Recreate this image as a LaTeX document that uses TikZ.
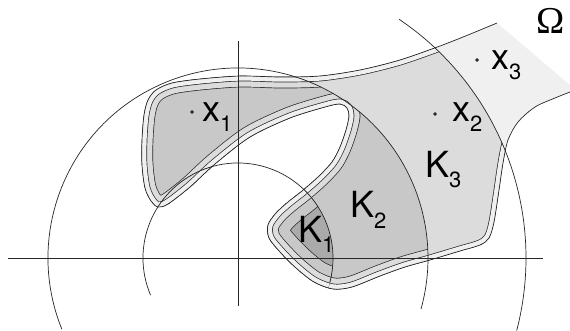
\documentclass[tikz,border=0pt]{standalone}
\usepackage{fontspec}
\setmainfont{TeX Gyre Heros}
\newfontfamily\omegafont{Liberation Serif}
\definecolor{omegagray}{HTML}{F0F0F0}
\definecolor{kthreegray}{HTML}{DCDCDC}
\definecolor{ktwogray}{HTML}{C8C8C8}
\definecolor{konegray}{HTML}{AAAAAA}
\colorlet{inkcol}{black!85}
\tikzset{
  curve/.style={line width=0.7pt, inkcol},
  axis/.style={line width=0.7pt, inkcol},
  band/.style={line join=round, line width=#1},
  lettr/.style={inner sep=0pt, anchor=base west, font=\fontsize{36}{36}\selectfont},
}
\newcommand\lab[3][0pt]{#2\kern#1\raisebox{-10pt}{\fontsize{22}{22}\selectfont #3}}
% boundary of Omega (open part, stroked) and the closed region
\def\omegapath{plot[smooth, tension=0.5] coordinates {
 (497,23) (468,35) (440,46) (400,60) (360,70) (320,76) (280,77) (240,76)
 (200,79) (172,83) (156,90) (148,100) (144,115) (142,140) (142,165)
 (145,188) (151,201) (158,207) (168,204) (190,187) (215,164) (250,137)
 (290,118) (325,107) (340,104) (347,108) (349,116) (346,130) (340,147)
 (332,162) (318,177) (302,191) (288,202) (276,213) (268,225) (269,238)
 (280,252) (296,268) (314,282) (333,289) (352,287) (380,276) (405,267)
 (430,260) (460,251) (480,245) (489,238) (494,222) (499,190) (503,163)
 (508,140) (518,122) (535,107) (555,98) (570,92)}}
\def\omegacycle{\omegapath -- (570,85) -- cycle}
\newcommand\offsetline[2]{%
  \draw[band=#1pt+0.7pt, inkcol] \omegacycle;
  \draw[band=#1pt-0.7pt, #2] \omegacycle;}
\begin{document}
\begin{tikzpicture}[x=1pt, y=-1pt]
\useasboundingbox (0,0) rectangle (570,331);
\coordinate (O) at (238,258);
\fill[omegagray] \omegacycle;
\begin{scope}
  \clip \omegacycle;
  % K_3
  \begin{scope}
    \clip (O) circle[radius=288];
    \fill[kthreegray] (O) circle[radius=288];
    \offsetline{10}{omegagray}
  \end{scope}
  % K_2
  \begin{scope}
    \clip (O) circle[radius=190];
    \fill[ktwogray] (O) circle[radius=190];
    \offsetline{22}{kthreegray}
    \offsetline{10}{omegagray}
  \end{scope}
  % K_1
  \begin{scope}
    \clip (O) circle[radius=95];
    \fill[konegray] (O) circle[radius=95];
    \offsetline{44}{ktwogray}
    \offsetline{22}{kthreegray}
    \offsetline{10}{omegagray}
  \end{scope}
\end{scope}
\draw[curve] \omegapath;
% axes and circles
\draw[axis] (8,258) -- (543,258);
\draw[axis] (238,41) -- (238,306);
\draw[curve] ([shift={(-203:95)}]O) arc[start angle=-203, end angle=15, radius=95];
\draw[curve] ([shift={(-202:190)}]O) arc[start angle=-202, end angle=15.6, radius=190];
\draw[curve] ([shift={(-56:288)}]O) arc[start angle=-56, end angle=14.6, radius=288];
% points and labels
\filldraw[inkcol] (192,112) circle[radius=1.5];
\filldraw[inkcol] (435,114) circle[radius=1.5];
\filldraw[inkcol] (477,60) circle[radius=1.5];
\node[lettr] (x1) at (202,122) {\lab{x}{1}};
\node[lettr] (x2) at (452,122) {\lab{x}{2}};
\node[lettr] (x3) at (491,70) {\lab{x}{3}};
\node[lettr] (K1) at (298,242) {\lab{K}{1}};
\node[lettr] (K2) at (350,218) {\lab{K}{2}};
\node[lettr] (K3) at (425,178) {\lab{K}{3}};
\node[inner sep=0pt, anchor=base, font=\omegafont\fontsize{38}{38}\selectfont] (omega) at (551,34) {Ω};
\end{tikzpicture}
\end{document}
